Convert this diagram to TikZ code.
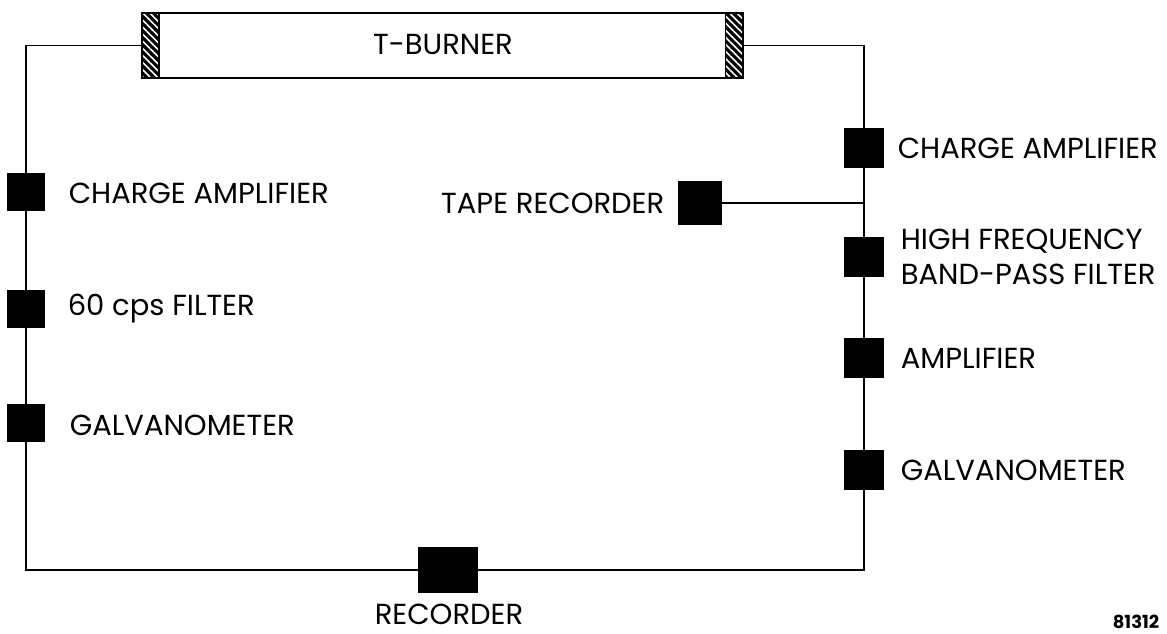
\documentclass[tikz,border=0pt]{standalone}
\usepackage{fontspec}
\setmainfont{Poppins}
\usetikzlibrary{positioning,patterns.meta}

\begin{document}
\begin{tikzpicture}[x=1pt,y=-1pt,line width=1.6pt]
	\tikzset{box/.style = {shape=rectangle, fill=black, draw, minimum width=37pt, minimum height=36pt, inner sep=0pt}}
	\tikzset{hatch/.style = {shape=rectangle, draw, minimum width=17pt, minimum height=64pt, inner sep=0pt, preaction={fill=black}, pattern={Lines[angle=-45, distance=5pt, line width=1.6pt]}, pattern color=white}}
	\tikzset{lbl/.style = {anchor=west, inner sep=0pt, font=\fontsize{29}{35}\selectfont}}
	\useasboundingbox (0,0) rectangle (1167,634);
	% burner
	\node[draw, minimum width=601pt, minimum height=65pt, inner sep=0pt] (tb) at (442.5,45.5) {};
	\node[hatch] (lh) at (150.5,45.5) {};
	\node[hatch] (rh) at (734,45.5) {};
	\node[lbl, anchor=center] (tbl) at (443,44) {T-BURNER};
	% left chain
	\foreach \n/\y in {la/192, lb/309, lc/423}{
		\node[box] (\n) at (26,\y) {};
	}
	% right chain
	\foreach \n/\y in {ra/148, rb/257, rc/358, rd/470}{
		\node[box, minimum width=38pt, minimum height=38pt] (\n) at (864,\y) {};
	}
	\node[box, minimum width=42pt, minimum height=43pt] (tape) at (700,203) {};
	\node[box, minimum width=58pt, minimum height=45pt] (rec) at (448,570) {};
	\coordinate (tj) at (ra |- tape);
	% wires
	\draw (lh.west) -| (la.north);
	\draw (la) -- (lb) -- (lc);
	\draw (lc) |- (rec);
	\draw (rec) -| (rd);
	\draw (rd) -- (rc) -- (rb) -- (ra);
	\draw (ra.north) |- (rh.east);
	\draw (tape) -- (tj);
	% labels
	\node[lbl] (lal) at (68,193) {CHARGE AMPLIFIER};
	\node[lbl] (lbl1) at (67,309) {60 cps FILTER};
	\node[lbl] (lcl) at (69,425) {GALVANOMETER};
	\node[lbl] (ral) at (897,148) {CHARGE AMPLIFIER};
	\node[lbl, align=left] (rbl) at (900,257) {HIGH FREQUENCY\\BAND-PASS FILTER};
	\node[lbl] (rcl) at (900,358) {AMPLIFIER};
	\node[lbl] (rdl) at (900,470) {GALVANOMETER};
	\node[lbl, anchor=east] (tapel) at (665,203) {TAPE RECORDER};
	\node[lbl, anchor=center] (recl) at (449,614) {RECORDER};
	\node[inner sep=0pt, anchor=north, font=\fontsize{18}{20}\selectfont\bfseries] (num) at (1136,614) {81312};
\end{tikzpicture}
\end{document}
